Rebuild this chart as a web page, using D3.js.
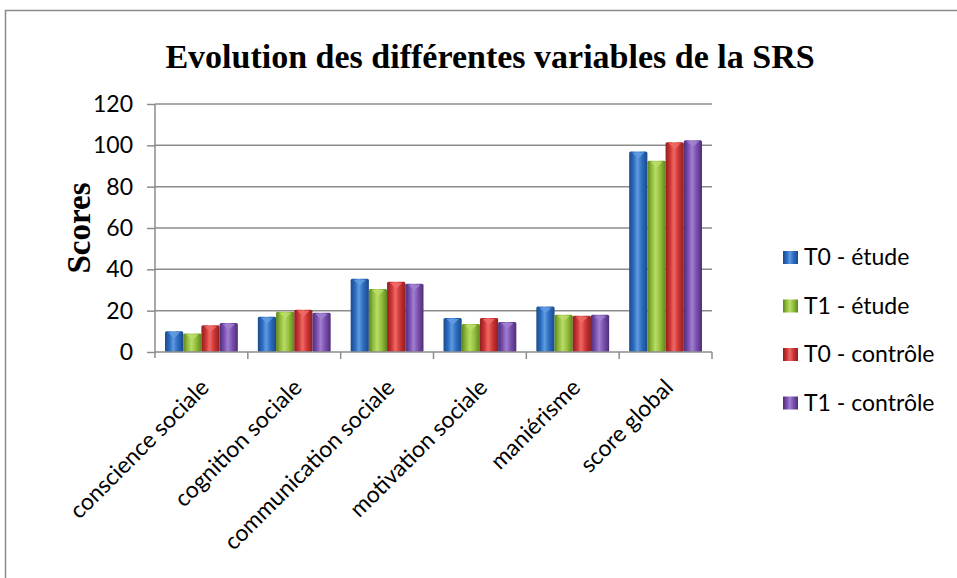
<!DOCTYPE html>
<meta charset="utf-8">
<style>
body { margin: 0; background: #fff; }
svg { display: block; }
.grid line { stroke: #8c8c8c; stroke-width: 1.5px; }
.axis path, .axis line { stroke: #8c8c8c; stroke-width: 1.5px; }
.axis text { font-family: Lato, "Open Sans", sans-serif; font-size: 23px; fill: #000; }
.legend text { font-family: Lato, "Open Sans", sans-serif; font-size: 23px; fill: #000; }
</style>
<body>
  <svg></svg>
</body>
<script src="https://cdn.jsdelivr.net/npm/d3@7"></script>
<script>

var categories = ["conscience sociale", "cognition sociale", "communication sociale",
                  "motivation sociale", "maniérisme", "score global"];
var seriesNames = ["T0 - étude", "T1 - étude", "T0 - contrôle", "T1 - contrôle"];
var t0Etude     = [10, 17, 35.5, 16.5, 22, 97];
var t1Etude     = [9, 19.5, 30.5, 13.5, 18, 92.5];
var t0Controle  = [13, 20.5, 34, 16.5, 17.5, 101.5];
var t1Controle  = [14, 19, 33, 14.5, 18, 102.5];
var yTicks = [0, 20, 40, 60, 80, 100, 120];

var seriesValues = [t0Etude, t1Etude, t0Controle, t1Controle];
// base, light, dark per series
var colors = [
  ["#2c6cc0", "#5f9be0", "#1a4a8a"],
  ["#93bf3a", "#b9dc6a", "#5f8420"],
  ["#cf3535", "#ec6a66", "#8e1e1e"],
  ["#7b4fae", "#a07fd0", "#4d2d78"]
];

var width = 957, height = 578;
var svg = d3.select("svg").attr("width", width).attr("height", height);

var margin = {left: 155, right: 245, top: 104, bottom: 226};

var x = d3.scaleBand()
    .domain(categories)
    .range([margin.left, width - margin.right])
    .padding(0);

var xs = d3.scaleBand()
    .domain(d3.range(seriesNames.length))
    .range([0, x.bandwidth()])
    .paddingInner(0)
    .paddingOuter(0.55);

var y = d3.scaleLinear()
    .domain([0, 120])
    .range([height - margin.bottom, margin.top]);

// gradients
var defs = svg.append("defs");
colors.forEach(function(c, i) {
  var g = defs.append("linearGradient").attr("id", "grad" + i)
      .attr("x1", "0%").attr("x2", "100%").attr("y1", "0%").attr("y2", "0%");
  g.append("stop").attr("offset", "0%").attr("stop-color", c[2]);
  g.append("stop").attr("offset", "25%").attr("stop-color", c[0]);
  g.append("stop").attr("offset", "45%").attr("stop-color", c[1]);
  g.append("stop").attr("offset", "70%").attr("stop-color", c[0]);
  g.append("stop").attr("offset", "100%").attr("stop-color", c[2]);
});

// outer frame (right and bottom edges cut off)
svg.append("path")
    .attr("d", "M5.5," + height + "V10.5H" + width)
    .attr("fill", "none")
    .attr("stroke", "#8c8c8c")
    .attr("stroke-width", 1.5);

// gridlines
svg.append("g").attr("class", "grid")
  .selectAll("line")
  .data(yTicks.slice(1))
  .enter().append("line")
    .attr("x1", margin.left)
    .attr("x2", width - margin.right)
    .attr("y1", function(d) { return y(d); })
    .attr("y2", function(d) { return y(d); });

// bars
var groups = svg.append("g")
  .selectAll("g")
  .data(categories)
  .enter().append("g")
    .attr("transform", function(d) { return "translate(" + x(d) + ",0)"; });

groups.selectAll("rect")
  .data(function(d, ci) { return seriesValues.map(function(s, si) { return {si: si, v: s[ci]}; }); })
  .enter().append("rect")
    .attr("x", function(d) { return xs(d.si); })
    .attr("width", xs.bandwidth())
    .attr("y", function(d) { return y(d.v); })
    .attr("height", function(d) { return y(0) - y(d.v); })
    .attr("rx", 1.5)
    .attr("fill", function(d) { return "url(#grad" + d.si + ")"; });

// top bevel highlight
groups.selectAll("path.cap")
  .data(function(d, ci) { return seriesValues.map(function(s, si) { return {si: si, v: s[ci]}; }); })
  .enter().append("path")
    .attr("class", "cap")
    .attr("d", function(d) {
      var x0 = xs(d.si), w = xs.bandwidth(), t = y(d.v);
      return "M" + (x0 + 3) + "," + (t + 1) + "H" + (x0 + w - 3) + "L" + (x0 + w / 2) + "," + (t + 7) + "Z";
    })
    .attr("fill", function(d) { return colors[d.si][1]; })
    .attr("opacity", 0.9);

// y axis
var yAxis = svg.append("g").attr("class", "axis")
    .attr("transform", "translate(" + margin.left + ",0)")
    .call(d3.axisLeft(y).tickValues(yTicks).tickSize(8).tickPadding(14).tickSizeOuter(0));
yAxis.select(".domain").attr("d", "M0," + y(120) + "V" + (y(0) + 6));

// x axis
var xAxis = svg.append("g").attr("class", "axis")
    .attr("transform", "translate(0," + y(0) + ")");
xAxis.append("line")
    .attr("x1", margin.left).attr("x2", width - margin.right);
xAxis.selectAll("line.tick")
  .data(categories)
  .enter().append("line")
    .attr("class", "tick")
    .attr("x1", function(d) { return x(d) + x.bandwidth(); })
    .attr("x2", function(d) { return x(d) + x.bandwidth(); })
    .attr("y1", 0).attr("y2", 7);
xAxis.selectAll("text")
  .data(categories)
  .enter().append("text")
    .attr("text-anchor", "end")
    .attr("transform", function(d) {
      return "translate(" + (x(d) + x.bandwidth() / 2 + 9) + ",37) rotate(-45)";
    })
    .text(function(d) { return d; });

// title
svg.append("text")
    .attr("x", 490)
    .attr("y", 68)
    .attr("text-anchor", "middle")
    .style("font-family", "'Liberation Serif', 'Times New Roman', serif")
    .style("font-weight", "bold")
    .style("font-size", "34px")
    .text("Evolution des différentes variables de la SRS");

// y label
svg.append("text")
    .attr("transform", "translate(90,228) rotate(-90)")
    .attr("text-anchor", "middle")
    .style("font-family", "'Liberation Serif', 'Times New Roman', serif")
    .style("font-weight", "bold")
    .style("font-size", "33px")
    .text("Scores");

// legend
var legend = svg.append("g").attr("class", "legend")
  .selectAll("g")
  .data(seriesNames)
  .enter().append("g")
    .attr("transform", function(d, i) { return "translate(783," + (257 + i * 48.5) + ")"; });

legend.append("rect")
    .attr("x", 0).attr("y", -6)
    .attr("width", 15).attr("height", 13)
    .attr("fill", function(d, i) { return "url(#grad" + i + ")"; });

legend.append("text")
    .attr("x", 21)
    .attr("y", 0)
    .attr("dy", "0.35em")
    .text(function(d) { return d; });

</script>
